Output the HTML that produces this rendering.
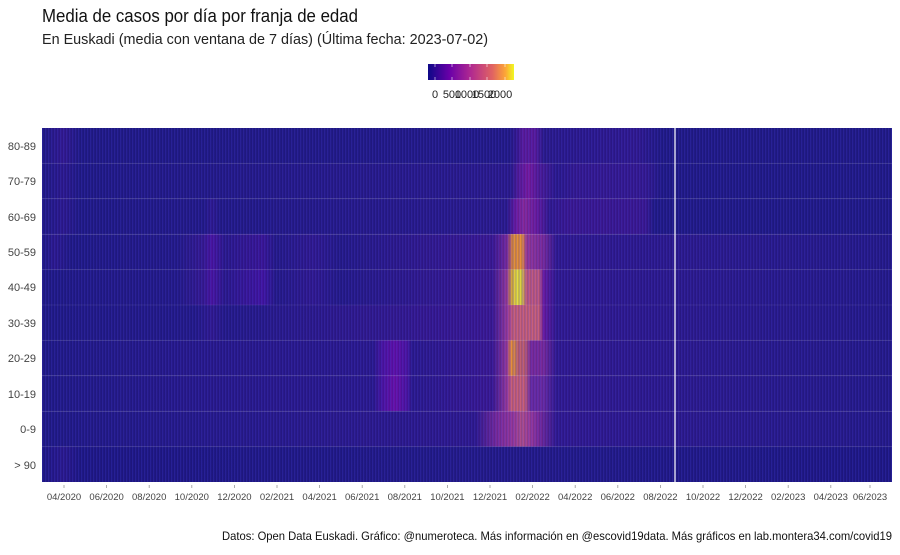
<!DOCTYPE html>
<html><head><meta charset="utf-8"><style>
body{margin:0;background:#fff}
svg text{font-family:"Liberation Sans",sans-serif}
</style></head><body>
<svg width="900" height="550" viewBox="0 0 900 550" xmlns="http://www.w3.org/2000/svg">
<defs>
<pattern id="st" x="42" y="0" width="3" height="10" patternUnits="userSpaceOnUse">
<rect x="0" y="0" width="1" height="10" fill="rgba(70,60,210,0.22)"/>
<rect x="2" y="0" width="1" height="10" fill="rgba(20,15,80,0.15)"/>
</pattern>
<linearGradient id="lg" x1="0" x2="1" y1="0" y2="0">
<stop offset="0" stop-color="#0d0887"/><stop offset="0.25" stop-color="#6a00a8"/><stop offset="0.5" stop-color="#b12a90"/><stop offset="0.75" stop-color="#e16462"/><stop offset="0.9" stop-color="#fca636"/><stop offset="1" stop-color="#f0f921"/>
</linearGradient>
<linearGradient id="g0" gradientUnits="userSpaceOnUse" x1="42" x2="892" y1="0" y2="0">
<stop offset="0" stop-color="#201a85"/><stop offset="0.025" stop-color="#32198f"/><stop offset="0.045" stop-color="#201a85"/>
<stop offset="0.55" stop-color="#221a86"/><stop offset="0.56" stop-color="#3a1890"/><stop offset="0.565" stop-color="#5a1a9a"/><stop offset="0.58" stop-color="#5a1a9a"/><stop offset="0.59" stop-color="#2a1a8a"/>
<stop offset="0.62" stop-color="#2a198c"/><stop offset="0.7" stop-color="#30198e"/><stop offset="0.73" stop-color="#201a85"/><stop offset="1" stop-color="#201a85"/>
</linearGradient>
<linearGradient id="g1" gradientUnits="userSpaceOnUse" x1="42" x2="892" y1="0" y2="0">
<stop offset="0" stop-color="#201a85"/><stop offset="0.025" stop-color="#2c198c"/><stop offset="0.045" stop-color="#201a85"/>
<stop offset="0.552" stop-color="#2a1a8a"/><stop offset="0.562" stop-color="#5a1a9a"/><stop offset="0.572" stop-color="#7a1a9e"/><stop offset="0.587" stop-color="#4a1a95"/><stop offset="0.605" stop-color="#2a198c"/>
<stop offset="0.63" stop-color="#34198f"/><stop offset="0.71" stop-color="#34198f"/><stop offset="0.73" stop-color="#201a85"/><stop offset="1" stop-color="#201a85"/>
</linearGradient>
<linearGradient id="g2" gradientUnits="userSpaceOnUse" x1="42" x2="892" y1="0" y2="0">
<stop offset="0" stop-color="#201a85"/><stop offset="0.025" stop-color="#2c198c"/><stop offset="0.045" stop-color="#201a85"/>
<stop offset="0.19" stop-color="#221a86"/><stop offset="0.2" stop-color="#2e198e"/><stop offset="0.21" stop-color="#221a86"/>
<stop offset="0.547" stop-color="#2a1a8a"/><stop offset="0.557" stop-color="#6a1aa0"/><stop offset="0.567" stop-color="#8a2a9a"/><stop offset="0.582" stop-color="#6a1a9c"/><stop offset="0.597" stop-color="#30198e"/>
<stop offset="0.62" stop-color="#3a1890"/><stop offset="0.71" stop-color="#3a1890"/><stop offset="0.72" stop-color="#201a85"/><stop offset="1" stop-color="#201a85"/>
</linearGradient>
<linearGradient id="g3" gradientUnits="userSpaceOnUse" x1="42" x2="892" y1="0" y2="0">
<stop offset="0" stop-color="#201a85"/><stop offset="0.015" stop-color="#2c198c"/><stop offset="0.035" stop-color="#201a85"/>
<stop offset="0.16" stop-color="#231a87"/><stop offset="0.19" stop-color="#36198f"/><stop offset="0.2" stop-color="#4a14a0"/><stop offset="0.215" stop-color="#2a198a"/>
<stop offset="0.26" stop-color="#3a1594"/><stop offset="0.275" stop-color="#241a87"/><stop offset="0.32" stop-color="#30198e"/><stop offset="0.35" stop-color="#241a87"/>
<stop offset="0.53" stop-color="#3a1890"/><stop offset="0.547" stop-color="#7a2a9a"/><stop offset="0.554" stop-color="#e0903a"/><stop offset="0.565" stop-color="#e8903a"/><stop offset="0.57" stop-color="#9a3a98"/><stop offset="0.59" stop-color="#7a2a9a"/><stop offset="0.605" stop-color="#30198e"/><stop offset="1" stop-color="#241a87"/>
</linearGradient>
<linearGradient id="g4" gradientUnits="userSpaceOnUse" x1="42" x2="892" y1="0" y2="0">
<stop offset="0" stop-color="#201a85"/><stop offset="0.16" stop-color="#231a87"/><stop offset="0.19" stop-color="#36198f"/><stop offset="0.2" stop-color="#4a14a0"/><stop offset="0.215" stop-color="#2a198a"/>
<stop offset="0.26" stop-color="#4214a0"/><stop offset="0.275" stop-color="#241a87"/><stop offset="0.32" stop-color="#30198e"/><stop offset="0.35" stop-color="#241a87"/>
<stop offset="0.53" stop-color="#3a1890"/><stop offset="0.547" stop-color="#9a3a98"/><stop offset="0.552" stop-color="#d0a040"/><stop offset="0.558" stop-color="#e8e040"/><stop offset="0.564" stop-color="#d8d040"/><stop offset="0.57" stop-color="#c05a80"/><stop offset="0.585" stop-color="#c05a80"/><stop offset="0.59" stop-color="#6a1aa0"/><stop offset="0.605" stop-color="#30198e"/><stop offset="1" stop-color="#241a87"/>
</linearGradient>
<linearGradient id="g5" gradientUnits="userSpaceOnUse" x1="42" x2="892" y1="0" y2="0">
<stop offset="0" stop-color="#201a85"/><stop offset="0.18" stop-color="#231a87"/><stop offset="0.2" stop-color="#30198e"/><stop offset="0.215" stop-color="#241a87"/>
<stop offset="0.53" stop-color="#3a1890"/><stop offset="0.547" stop-color="#9a3a9a"/><stop offset="0.554" stop-color="#c8607a"/><stop offset="0.585" stop-color="#c8607a"/><stop offset="0.59" stop-color="#6a1aa0"/><stop offset="0.605" stop-color="#30198e"/><stop offset="1" stop-color="#241a87"/>
</linearGradient>
<linearGradient id="g6" gradientUnits="userSpaceOnUse" x1="42" x2="892" y1="0" y2="0">
<stop offset="0" stop-color="#201a85"/><stop offset="0.2" stop-color="#28198a"/><stop offset="0.39" stop-color="#2a198c"/><stop offset="0.4" stop-color="#4a14a0"/><stop offset="0.415" stop-color="#6010a8"/><stop offset="0.43" stop-color="#4a14a0"/><stop offset="0.435" stop-color="#2a198c"/>
<stop offset="0.53" stop-color="#3a1890"/><stop offset="0.547" stop-color="#9a3a9a"/><stop offset="0.552" stop-color="#e8903a"/><stop offset="0.557" stop-color="#d08050"/><stop offset="0.56" stop-color="#c06070"/><stop offset="0.568" stop-color="#c06070"/><stop offset="0.575" stop-color="#7a2a9a"/><stop offset="0.59" stop-color="#7a2a9a"/><stop offset="0.605" stop-color="#30198e"/><stop offset="1" stop-color="#241a87"/>
</linearGradient>
<linearGradient id="g7" gradientUnits="userSpaceOnUse" x1="42" x2="892" y1="0" y2="0">
<stop offset="0" stop-color="#201a85"/><stop offset="0.2" stop-color="#28198a"/><stop offset="0.39" stop-color="#2a198c"/><stop offset="0.4" stop-color="#4a14a0"/><stop offset="0.415" stop-color="#6a10a8"/><stop offset="0.43" stop-color="#4a14a0"/><stop offset="0.435" stop-color="#2a198c"/>
<stop offset="0.53" stop-color="#3a1890"/><stop offset="0.547" stop-color="#9a3a9a"/><stop offset="0.552" stop-color="#c86078"/><stop offset="0.568" stop-color="#c86078"/><stop offset="0.575" stop-color="#6a2aa0"/><stop offset="0.59" stop-color="#6a2aa0"/><stop offset="0.605" stop-color="#30198e"/><stop offset="1" stop-color="#241a87"/>
</linearGradient>
<linearGradient id="g8" gradientUnits="userSpaceOnUse" x1="42" x2="892" y1="0" y2="0">
<stop offset="0" stop-color="#201a85"/><stop offset="0.2" stop-color="#261a89"/><stop offset="0.51" stop-color="#2e198c"/><stop offset="0.535" stop-color="#7a2a9a"/><stop offset="0.555" stop-color="#9a3a9a"/><stop offset="0.565" stop-color="#b0508a"/><stop offset="0.575" stop-color="#9a3a9a"/><stop offset="0.585" stop-color="#7a2a9a"/><stop offset="0.605" stop-color="#30198e"/><stop offset="1" stop-color="#241a87"/>
</linearGradient>
<linearGradient id="g9" gradientUnits="userSpaceOnUse" x1="42" x2="892" y1="0" y2="0">
<stop offset="0" stop-color="#1e1884"/><stop offset="0.025" stop-color="#2a198c"/><stop offset="0.045" stop-color="#1e1884"/><stop offset="0.55" stop-color="#221a86"/><stop offset="1" stop-color="#1e1884"/>
</linearGradient>
</defs>

<text x="42" y="22" font-size="18" fill="#111" textLength="316" lengthAdjust="spacingAndGlyphs">Media de casos por día por franja de edad</text>
<text x="42" y="44" font-size="15" fill="#222" textLength="446" lengthAdjust="spacingAndGlyphs">En Euskadi (media con ventana de 7 días)  (Última fecha: 2023-07-02)</text>

<rect x="428" y="64" width="86" height="16" fill="url(#lg)"/>
<g stroke="#fff" stroke-width="0.8" opacity="0.7">
<line x1="435" y1="64" x2="435" y2="67"/><line x1="452" y1="64" x2="452" y2="67"/><line x1="470" y1="64" x2="470" y2="67"/><line x1="487" y1="64" x2="487" y2="67"/><line x1="505" y1="64" x2="505" y2="67"/>
<line x1="435" y1="77" x2="435" y2="80"/><line x1="452" y1="77" x2="452" y2="80"/><line x1="470" y1="77" x2="470" y2="80"/><line x1="487" y1="77" x2="487" y2="80"/><line x1="505" y1="77" x2="505" y2="80"/>
</g>
<g font-size="11" fill="#222" text-anchor="middle">
<text x="435" y="98">0</text><text x="452" y="98">500</text><text x="467" y="98">1000</text><text x="484" y="98">1500</text><text x="500" y="98">2000</text>
</g>

<g>
<rect x="42" y="128" width="850" height="35.4" fill="url(#g0)"/>
<rect x="42" y="163.4" width="850" height="35.4" fill="url(#g1)"/>
<rect x="42" y="198.8" width="850" height="35.4" fill="url(#g2)"/>
<rect x="42" y="234.2" width="850" height="35.4" fill="url(#g3)"/>
<rect x="42" y="269.6" width="850" height="35.4" fill="url(#g4)"/>
<rect x="42" y="305" width="850" height="35.4" fill="url(#g5)"/>
<rect x="42" y="340.4" width="850" height="35.4" fill="url(#g6)"/>
<rect x="42" y="375.8" width="850" height="35.4" fill="url(#g7)"/>
<rect x="42" y="411.2" width="850" height="35.4" fill="url(#g8)"/>
<rect x="42" y="446.6" width="850" height="35.4" fill="url(#g9)"/>
<rect x="42" y="128" width="850" height="354" fill="url(#st)"/>
</g>
<g stroke="rgba(255,255,255,0.08)" stroke-width="1">
<line x1="42" y1="163.4" x2="892" y2="163.4"/><line x1="42" y1="198.8" x2="892" y2="198.8"/><line x1="42" y1="234.2" x2="892" y2="234.2"/><line x1="42" y1="269.6" x2="892" y2="269.6"/><line x1="42" y1="305" x2="892" y2="305"/><line x1="42" y1="340.4" x2="892" y2="340.4"/><line x1="42" y1="375.8" x2="892" y2="375.8"/><line x1="42" y1="411.2" x2="892" y2="411.2"/><line x1="42" y1="446.6" x2="892" y2="446.6"/>
</g>
<line x1="675" y1="128" x2="675" y2="482" stroke="#fff" stroke-width="1.2"/>

<g font-size="11" fill="#444" text-anchor="end">
<text x="36" y="150">80-89</text><text x="36" y="185">70-79</text><text x="36" y="221">60-69</text><text x="36" y="256">50-59</text><text x="36" y="291">40-49</text><text x="36" y="327">30-39</text><text x="36" y="362">20-29</text><text x="36" y="398">10-19</text><text x="36" y="433">0-9</text><text x="36" y="469">&gt; 90</text>
</g>

<g font-size="9.5" fill="#444" text-anchor="middle">
<text x="64" y="500">04/2020</text><text x="106.6" y="500">06/2020</text><text x="149.2" y="500">08/2020</text><text x="191.8" y="500">10/2020</text><text x="234.4" y="500">12/2020</text><text x="277" y="500">02/2021</text><text x="319.6" y="500">04/2021</text><text x="362.2" y="500">06/2021</text><text x="404.8" y="500">08/2021</text><text x="447.4" y="500">10/2021</text><text x="490" y="500">12/2021</text><text x="532.6" y="500">02/2022</text><text x="575.2" y="500">04/2022</text><text x="617.8" y="500">06/2022</text><text x="660.4" y="500">08/2022</text><text x="703" y="500">10/2022</text><text x="745.6" y="500">12/2022</text><text x="788.2" y="500">02/2023</text><text x="830.8" y="500">04/2023</text><text x="870" y="500">06/2023</text>
</g>
<g stroke="#999" stroke-width="0.8">
<line x1="64" y1="485" x2="64" y2="488"/><line x1="106.6" y1="485" x2="106.6" y2="488"/><line x1="149.2" y1="485" x2="149.2" y2="488"/><line x1="191.8" y1="485" x2="191.8" y2="488"/><line x1="234.4" y1="485" x2="234.4" y2="488"/><line x1="277" y1="485" x2="277" y2="488"/><line x1="319.6" y1="485" x2="319.6" y2="488"/><line x1="362.2" y1="485" x2="362.2" y2="488"/><line x1="404.8" y1="485" x2="404.8" y2="488"/><line x1="447.4" y1="485" x2="447.4" y2="488"/><line x1="490" y1="485" x2="490" y2="488"/><line x1="532.6" y1="485" x2="532.6" y2="488"/><line x1="575.2" y1="485" x2="575.2" y2="488"/><line x1="617.8" y1="485" x2="617.8" y2="488"/><line x1="660.4" y1="485" x2="660.4" y2="488"/><line x1="703" y1="485" x2="703" y2="488"/><line x1="745.6" y1="485" x2="745.6" y2="488"/><line x1="788.2" y1="485" x2="788.2" y2="488"/><line x1="830.8" y1="485" x2="830.8" y2="488"/><line x1="870" y1="485" x2="870" y2="488"/>
</g>

<text x="892" y="540" font-size="12" fill="#111" text-anchor="end" textLength="670" lengthAdjust="spacingAndGlyphs">Datos: Open Data Euskadi. Gráfico: @numeroteca. Más información en @escovid19data.  Más gráficos en lab.montera34.com/covid19</text>
</svg>
</body></html>
